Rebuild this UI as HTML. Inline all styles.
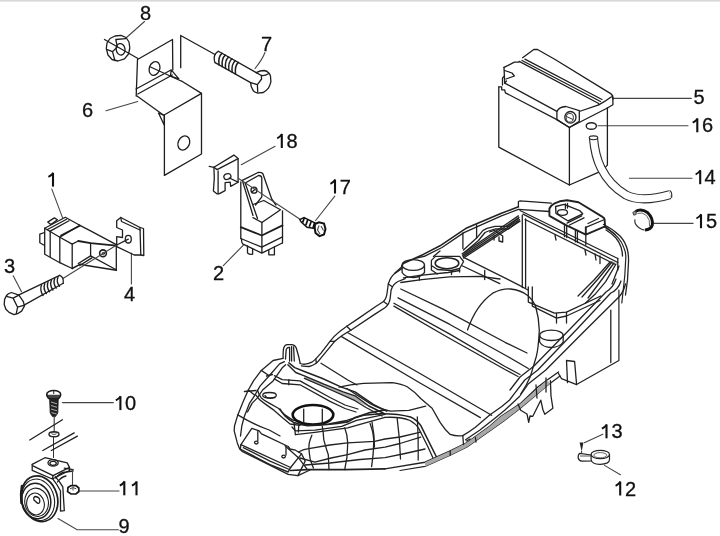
<!DOCTYPE html>
<html><head><meta charset="utf-8"><style>
html,body{margin:0;padding:0;background:#fff;width:720px;height:536px;overflow:hidden}
svg{display:block;filter:blur(0.4px)}
text{font-family:"Liberation Sans",sans-serif;font-size:20px;fill:#111;stroke:#111;stroke-width:0.3}
.l{fill:none;stroke:#1e1e1e;stroke-width:1.3;stroke-linecap:round;stroke-linejoin:round}
.f{fill:none;stroke:#222;stroke-width:1.3;stroke-linecap:round;stroke-linejoin:round}
.t{fill:none;stroke:#444;stroke-width:1.1;stroke-linecap:round}
.w{fill:#fff;stroke:#262626;stroke-width:1.15;stroke-linejoin:round}
.d{fill:#222;stroke:none}
</style></head><body>
<svg width="720" height="536" viewBox="0 0 720 536">
<rect x="0" y="0" width="720" height="1.6" fill="#d8d8d8"/>
<g id="labels"><text x="140.0" y="20.0">8</text><text x="261.0" y="51.3">7</text><text x="82.0" y="116.6">6</text><path d="M281.8,134.3 L281.8,148.0" fill="none" stroke="#111" stroke-width="2.1"/><path d="M282.1,134.1 Q280.3,136.9 277.2,138.3" fill="none" stroke="#111" stroke-width="1.9"/><text x="286.4" y="148.0">8</text><path d="M335.0,179.8 L335.0,193.5" fill="none" stroke="#111" stroke-width="2.1"/><path d="M335.3,179.6 Q333.5,182.4 330.4,183.8" fill="none" stroke="#111" stroke-width="1.9"/><text x="339.8" y="193.5">7</text><path d="M53.0,172.9 L53.0,186.6" fill="none" stroke="#111" stroke-width="2.1"/><path d="M53.3,172.7 Q51.5,175.5 48.4,176.9" fill="none" stroke="#111" stroke-width="1.9"/><text x="213.0" y="280.4">2</text><text x="3.9" y="273.3">3</text><text x="123.9" y="301.4">4</text><text x="693.5" y="104.3">5</text><path d="M697.3,118.6 L697.3,132.3" fill="none" stroke="#111" stroke-width="2.1"/><path d="M697.6,118.4 Q695.8,121.2 692.7,122.6" fill="none" stroke="#111" stroke-width="1.9"/><text x="702.0" y="132.3">6</text><path d="M700.2,170.5 L700.2,184.2" fill="none" stroke="#111" stroke-width="2.1"/><path d="M700.5,170.3 Q698.7,173.1 695.6,174.5" fill="none" stroke="#111" stroke-width="1.9"/><text x="704.6" y="184.2">4</text><path d="M701.0,214.5 L701.0,228.2" fill="none" stroke="#111" stroke-width="2.1"/><path d="M701.3,214.3 Q699.5,217.1 696.4,218.5" fill="none" stroke="#111" stroke-width="1.9"/><text x="705.9" y="228.2">5</text><path d="M120.4,396.4 L120.4,410.1" fill="none" stroke="#111" stroke-width="2.1"/><path d="M120.7,396.2 Q118.9,399.0 115.8,400.4" fill="none" stroke="#111" stroke-width="1.9"/><text x="125.0" y="410.1">0</text><path d="M124.3,481.6 L124.3,495.3" fill="none" stroke="#111" stroke-width="2.1"/><path d="M124.7,481.4 Q122.8,484.2 119.8,485.6" fill="none" stroke="#111" stroke-width="1.9"/><path d="M136.5,481.6 L136.5,495.3" fill="none" stroke="#111" stroke-width="2.1"/><path d="M136.8,481.4 Q135.0,484.2 131.9,485.6" fill="none" stroke="#111" stroke-width="1.9"/><text x="118.6" y="532.8">9</text><path d="M606.5,424.6 L606.5,438.3" fill="none" stroke="#111" stroke-width="2.1"/><path d="M606.8,424.4 Q605.0,427.2 601.9,428.6" fill="none" stroke="#111" stroke-width="1.9"/><text x="611.5" y="438.3">3</text><path d="M620.2,481.8 L620.2,495.5" fill="none" stroke="#111" stroke-width="2.1"/><path d="M620.5,481.6 Q618.7,484.4 615.6,485.8" fill="none" stroke="#111" stroke-width="1.9"/><text x="625.0" y="495.5">2</text></g>
<!-- 00_leaders.svg -->
<g class="t">
<path d="M144.5,21.5 L126.5,37.5"/>
<path d="M265,52.5 Q262,60 255,68.5"/>
<path d="M106,110.8 L137.7,101.5"/>
<path d="M275.1,146.3 L241.3,164.7"/>
<path d="M334.8,196.1 L315.6,220.5"/>
<path d="M51.8,189.1 L62.5,217.6"/>
<path d="M223.3,265.7 L243.4,245.1"/>
<path d="M13.2,275.7 L21.5,291.7"/>
<path d="M131.4,284 L131.4,253"/>
<path d="M613.3,98.4 L691.3,98.4"/>
<path d="M598,125.8 L688,125.8"/>
<path d="M629.4,178.2 L692,178.2"/>
<path d="M651.7,223.4 L693,223.4"/>
<path d="M62.4,402.6 L113.4,402.6"/>
<path d="M78.5,491 L119,491"/>
<path d="M58,518.6 L77.1,529.7 L118.5,529.7"/>
<path d="M602.8,434.3 L584.3,442.7"/>
<path d="M604.5,465.4 L620.4,474.7"/>
</g>

<!-- 01_top.svg -->
<!-- nut 8 -->
<g class="l">
<path d="M110,38.5 L115,36 L121,35.3 L126,37.5 L129,42 L129.8,48 L128.5,54 L124.5,58.8 L118,61 L112,59.5 L108,55 L106.3,48.5 L107,43 Z"/>
<ellipse cx="120.6" cy="49.3" rx="4.4" ry="5.8" transform="rotate(-10 120.6 49.3)"/>
<path d="M115.8,39.5 L125.7,38.6 M115.8,39.5 L117.3,46.9 L112.5,51.7 L107.2,49.6 M112.5,51.7 L114.9,60.7"/>
</g>
<!-- axis line nut->bracket -->
<path class="l" d="M104.5,39.5 L138,58.5"/>
<path class="l" d="M150.5,67 L181,81"/>
<!-- bracket 6 -->
<g class="l">
<path d="M137.5,59.5 L172.5,39.5 L172.8,70 M137.5,59.5 L136.2,96"/>
<path d="M136,89 L170.5,70.3 M137.8,94 L172.3,75"/>
<path d="M171.2,69.8 L178.9,78.9 L170.5,76.1 Z"/>
<ellipse cx="154.5" cy="68.5" rx="5.2" ry="7" transform="rotate(20 154.5 68.5)"/>
<path d="M180.7,35.5 L180.7,67.7 M180.7,35.5 L215,54.5"/>
<path d="M137,96 L163.7,115.2 L201.5,93.4 L181.5,81"/>
<path d="M201.5,93.4 L201.5,154 L164.4,175.4 L164.4,115.5"/>
<path d="M158.5,113 L164.3,115.5 L164.2,125 Z"/>
<ellipse cx="183.8" cy="143" rx="5.6" ry="7.3" transform="rotate(25 183.8 143)"/>
</g>
<!-- bolt 7 -->
<g class="l">
<path d="M218.4,51.3 L256.3,72.6 M215.1,62.6 L250.6,82.6"/>
<path d="M218.4,51.3 Q214.5,53 214.2,58 Q214.3,61.5 215.1,62.6"/>
<path d="M222,53.3 Q218,56.5 219,64.8 M225.3,55.1 Q221.3,58.5 222.3,66.6 M228.6,57 Q224.6,60.5 225.6,68.5 M231.9,58.8 Q227.9,62.3 228.9,70.3 M235.2,60.7 Q231.2,64.2 232.2,72.2 M238.3,62.4 Q234.5,66 235.5,74" stroke-width="1.5"/>
<path d="M256.3,72.6 Q260,70.5 264.1,70.5 Q267,71 268.4,72.6 Q270,74 270.5,76.2 L270.9,81.9 Q270,85.5 268.4,88.2 Q266,91 263.4,92.5 L257.7,93.2 Q255,92.5 253.5,91.1 L251.3,86.8 L250.6,82.6"/>
<path d="M256.3,72.6 L261.3,75.5 L261.6,79 L257.4,84.7 L250.6,82.6 M257.4,84.7 L257.7,92 M261.3,75.5 Q265,76 268.4,73.8"/>
</g>

<!-- 02_mid.svg -->
<!-- clip 18 -->
<g class="l">
<path d="M209.2,166.3 L213.9,167.3 L233.9,155.1 L238.1,158.4"/>
<path d="M213.9,167.3 L217.1,169.6 L237.7,158.9"/>

<path d="M238.1,158.6 L238.1,182.2 L230.7,186.4 L230.2,182.2 L225.1,182.7 L225.1,190.6 L219,193.9 L217.1,193.9 L213.4,191.1 L214.3,178 L213.9,167.3"/>
<path d="M218.1,171 L218.1,193.5"/>
<ellipse cx="227.4" cy="176.6" rx="3.6" ry="2.8" transform="rotate(-20 227.4 176.6)"/>
<path d="M229.3,178 L238.1,182.2"/>
</g>
<!-- relay 2 -->
<g class="l">
<path d="M242.3,180.4 L258,172.5 Q261,172 262.8,173.5 L271.7,199 L276,205"/>
<path d="M245.2,183 L258.5,175.5 Q261.5,175.5 261.8,178 L261.8,196.9 L255.5,205"/>
<path d="M242.3,180.4 L253,215.5 M245.2,183.3 L257.5,218.5"/>

<path d="M240.8,182 L240.8,238.5"/>
<circle cx="254" cy="190.2" r="3"/>
<path d="M252.5,191.5 L255.5,189"/>
<path d="M253,204.5 L263.8,200.5 L280.5,209.8 L261.9,222.5 L253,217.6"/>
<path d="M261.9,222.5 L261.9,252.5 M282.5,210.8 L282.5,243"/>
<path d="M240.8,227.1 L261.8,235.5 L282.5,225.4" stroke-width="1.8"/>
<path d="M240.8,238.5 L261.8,247.2 L282.5,236.8"/>
<path d="M241.5,239 Q241.5,242.5 242.6,243.9 L261.8,253.1 L282.3,243"/>
<path d="M247.5,246 L247.5,253 Q250,255 252.6,254.2 L252.6,249 M268.8,250.5 L268.8,254.8 L274.4,254.8 L274.4,247"/>
</g>
<!-- screw 17 -->
<path class="t" d="M238.6,178.5 L300,219.3"/>
<g fill="none" stroke="#111">
<path d="M299.8,219.6 L304,217.6 L316.5,223.6 L316,228.6 L307,227.3 L301,221.8 Z" fill="#fff" stroke-width="1.4"/>
<path d="M304.3,218 L302.6,222.6 M307.8,219.6 L305.8,225.2 M311.3,221.3 L309.3,226.8 M314.6,222.8 L313,228" stroke-width="1.7"/>
<path d="M315,224 L319,222.3 L324,223.5 L325.5,229 L324,234.5 L319.5,236.1 L315.5,233 L314.7,228 Z" fill="#fff" stroke-width="2"/>
<path d="M319,225.5 L317.5,230 L320,234 M321,226 L323.5,230.5" stroke-width="1.1" stroke="#444"/>
</g>
<!-- relay 1 -->
<g class="l">
<path d="M44.7,228.2 L65.3,217.3 L79.8,225.2 L59.8,237.3 Z"/>
<path d="M47.1,229.8 L66.5,219.3 M49.8,231.4 L69,220.7"/>
<path d="M61,235.5 L79.8,225.8" stroke-width="1.7"/>
<path d="M47.7,222.1 L54.4,217.9 L57.4,219.7 L50.8,224.5 Z"/>
<path d="M44.5,232.5 L39.8,234.2 L39.8,242.7 L44.1,245.2"/>
<path d="M44.7,228.2 L44.7,254.2 L59.8,262.7 L72.2,268.5"/>
<path d="M50.2,231.2 L50.2,256.7 M59.8,237.3 L59.8,262.7 M72.2,244.1 L72.2,268.5"/>
<path d="M59.8,237.3 L72.2,244.1 L78.3,241"/>
<path d="M79.4,225.1 L89.6,230.3 L116.3,244.6"/>
<path d="M78.3,241 L90.6,243.1 L116.3,245.6" stroke-width="1.8"/>
<path d="M90.6,243.1 L90.6,255.9 L115.3,269.2 M116.3,244.6 L116.3,270.3"/>
<path d="M78.3,263.5 L90.6,255.9 M79.8,265.5 L91.8,257.8" stroke-width="1.4"/>
<path d="M72.2,268.5 L80.4,264.1 L83.5,265.1 L116.3,270.3" stroke-width="1.5"/>
<circle cx="103" cy="253.3" r="3.4" stroke-width="1.6"/>
<circle cx="103.3" cy="253.6" r="1.2" stroke-width="0.9"/>
</g>
<!-- bracket 4 -->
<g class="l">
<path d="M116.7,220.8 L120.8,217.5 L140,227.5 L140.8,255 L134.2,255 L116.7,246.7 L116.7,236.7 L122.5,237.5 L122.5,230 L116.7,227.5 Z"/>
<path d="M120.8,217.5 L121.5,221.5 L140,230"/>
<path d="M140,227.5 L143.5,228.5 L143.8,255.5 L140.8,255"/>
<ellipse cx="128.3" cy="239.2" rx="3" ry="3.8"/>
</g>
<!-- bolt 3 -->
<g class="l">
<path d="M63.3,278.3 L116.7,245" class="t"/>
<path d="M116.7,245 L128.3,239.2"/>
<path d="M18.9,294.8 L59.7,275.3 M24.5,304.9 L63.2,283.3"/>
<path d="M59.7,275.3 Q64,277 63.2,283.3"/>
<path d="M41.5,285 Q39.5,290 43,295.5 M44.8,283.4 Q42.8,288.4 46.3,293.6 M48.1,281.8 Q46.1,286.8 49.6,291.8 M51.4,280.2 Q49.4,285.2 52.9,290 M54.7,278.6 Q52.7,283.6 56.2,288.1 M58,277 Q56,282 59.5,286.2" stroke-width="1.4"/>
<path d="M11.4,292.5 Q8,293.5 6.5,295.5 L4.6,299.4 L4.2,304.6 L5.9,309.2 L9.1,312.4 L14,314.7 L17.6,313.7 L21.6,311.1 L24.5,305.9 L23.2,301.3 L18.9,295.1 Z"/>
<path d="M6.5,296.4 L13.1,298.1 L18.9,295.1 M13.1,298.1 L17.6,307.2 L24.5,305.2 M17.6,307.2 L16.3,313.7"/>
</g>

<!-- 03_horn.svg -->
<!-- screw 10 -->
<g>
<ellipse cx="53.7" cy="394.4" rx="7" ry="3.9" fill="#fff" stroke="#1a1a1a" stroke-width="1.6"/>
<path d="M46.8,394.8 Q47.5,398.5 50,399 L57.5,399 Q60,398.5 60.6,394.8" fill="#444" stroke="#1a1a1a" stroke-width="1.2"/>
<path d="M53.7,391 L53.7,394" stroke="#222" stroke-width="1"/>
<path d="M49.6,398.5 L58.3,398.5 L57.8,413 L55.5,416.6 L52.5,416.6 L50.2,413 Z" fill="#222" stroke="#1c1c1c" stroke-width="0.8"/>
<path d="M51,402 L57,403.8 M51,405.5 L57,407.3 M51,409 L57,410.8 M51.5,412.5 L56.5,414" stroke="#bbb" stroke-width="0.9"/>
<path d="M54.2,416.6 L54.2,432" stroke="#333" stroke-width="1.1"/>
<ellipse cx="54" cy="434.2" rx="5" ry="2.5" fill="#fff" stroke="#222" stroke-width="1.4"/>
<ellipse cx="54" cy="433.6" rx="2.2" ry="1" fill="none" stroke="#444" stroke-width="0.8"/>
<path d="M53.5,436.8 L53.5,458" stroke="#333" stroke-width="1"/>
</g>
<g class="l">
<path d="M29.8,440 L62.4,419.8"/>
<path d="M42.8,450.5 L74.2,432.9 M51.3,450.5 L77.4,436.1"/>
</g>
<!-- horn 9 -->
<g class="l" stroke-width="1.25">
<path d="M32.2,464.4 L44.9,457.7 L67.2,462.9 L69.5,467.4 L53.1,475.6 L32.9,465.9"/>
<path d="M32.2,464.4 L32.2,470.4 L52.3,479 L53.1,475.6 M52.3,479 L69.5,470.5 L69.5,467.4"/>
<ellipse cx="53.1" cy="462.9" rx="5.1" ry="3.2"/>
<ellipse cx="53.1" cy="463.3" rx="3.2" ry="2"/>
<path d="M64.3,468.1 L73.2,469.6"/>
<path d="M55.3,476.6 Q60,482 62.8,486.8 L64.3,510.7 L60.5,511 L60.5,491 Q57,484 53.1,479.3"/>
<path d="M55.8,478 Q60,472.5 66,472 L73,471"/>
<path d="M57.5,482 Q61,477 66,476"/>
<path d="M72.5,469.6 L72.5,485.3" class="t"/>
<ellipse cx="39.5" cy="498.7" rx="17.9" ry="23.2" transform="rotate(-16 39.5 498.7)" stroke-width="1.7"/>
<ellipse cx="38" cy="499.8" rx="16.3" ry="21" transform="rotate(-14 38 499.8)" stroke-width="1.1"/>
<ellipse cx="36.2" cy="501" rx="14.5" ry="17.8" transform="rotate(-10 36.2 501)" stroke-width="1.5"/>
<ellipse cx="36.6" cy="502.3" rx="11.8" ry="14.2" transform="rotate(-10 36.6 502.3)" stroke-width="1.1"/>
<ellipse cx="35.5" cy="504" rx="8.8" ry="11" transform="rotate(-10 35.5 504)" stroke-width="1.1"/>
<path d="M35.5,496.5 Q33,497 34,500 L37.5,503.2 Q40,504 39.8,500.5 Q39.5,497 35.5,496.5 Z"/>
<path d="M22,486 Q20.5,494 21.5,503" stroke-width="2.6"/>
</g>
<!-- nut 11 -->
<g>
<path d="M68,487.5 L71,485.6 L76,485.6 L78.8,488 L78.8,491.5 L76,494 L71,494 L67.6,491.6 Z" fill="#fff" stroke="#151515" stroke-width="1.7"/>
<path d="M70,488.8 L73,487.6 L76.3,488.8 M73,487.6 L73,490.5" fill="none" stroke="#444" stroke-width="1"/>
</g>

<!-- 04_battery.svg -->
<!-- battery 5 -->
<g class="l">
<!-- body -->
<path d="M498.8,86.8 L498.8,147.1 L569.4,185 L598.3,172.3 M604,168.5 L607.4,165.1 L607.4,108"/>
<path d="M569.4,127.5 L569.4,185"/>
<!-- lid left block -->
<path d="M498.8,86.8 L501.7,86.8 L501.7,89.8 L504.7,89.8 L505.4,92.8 L556.9,119.6 L569.4,127.5 L607.4,108"/>
<path d="M504,67.4 L514.4,62.2 L518.9,62.2"/>
<path d="M504,67.4 L504.7,83.1 L556.9,111.4 L556.9,119.6"/>
<path d="M504.5,70.5 L512,73 L514.4,76 L506,79 M504.5,76 L502.5,78 L502.5,85"/>
<path d="M504.7,83.1 L506.5,81"/>
<!-- groove & right block -->
<path d="M519.2,61.4 L598.7,103.5 M522,60.5 L600.5,101.5 M524.9,59.2 L602,99.5"/>
<path d="M522.6,57.7 L533.8,49.5 L537.5,49.5 L554.7,59.2 L610.7,93.6 Q613.5,95.5 612.9,99 L612.9,104.8 L607.4,108"/>
<path d="M598.7,104.8 Q606,101 610.7,97.3 Q612.5,96 612.9,99"/>
<path d="M598.7,104.8 L579.3,111.5 L579.3,121.2 L569.4,127.5"/>
<path d="M556.9,111.4 Q559,107 566,106.5 L579.3,110.7"/>
<path d="M556.9,119.6 L569.4,127.5"/>
</g>
<g>
<ellipse cx="570.4" cy="117.3" rx="5.6" ry="5.8" fill="#fff" stroke="#222" stroke-width="1.3"/>
<ellipse cx="569.8" cy="117.8" rx="3.6" ry="4.3" fill="none" stroke="#333" stroke-width="1"/>
<path d="M566.5,116.5 L573,119.5" stroke="#333" stroke-width="1"/>
</g>
<!-- washer 16 -->
<ellipse cx="591.3" cy="126" rx="5.1" ry="3.3" fill="#fff" stroke="#222" stroke-width="1.4"/>
<!-- hose 14 -->
<path d="M593.5,138.3 C594.5,150 597,160 601,168 C606,178 614,188 626,195 C636,200 650,200.5 670,194.6" fill="none" stroke="#2a2a2a" stroke-width="9.2" stroke-linecap="butt"/>
<path d="M593.5,138.3 C594.5,150 597,160 601,168 C606,178 614,188 626,195 C636,200 650,200.5 670,194.6" fill="none" stroke="#fff" stroke-width="7" stroke-linecap="butt"/>
<ellipse cx="593.5" cy="137.8" rx="4.3" ry="1.9" fill="#fff" stroke="#222" stroke-width="1.1"/>
<path d="M669.5,190.4 Q672.5,191.5 671.6,197.9" fill="none" stroke="#222" stroke-width="1.1"/>
<!-- clamp 15 -->
<g fill="none">
<path d="M635.5,211.5 Q641,208 647.5,212.5 Q653.2,218 652.3,225 Q651,229.5 645,230" stroke="#151515" stroke-width="3"/>
<path d="M637.5,213.5 Q642,211.5 646.5,215.5 Q650.5,220 649.5,226" stroke="#555" stroke-width="0.9"/>
<path d="M635,219.4 Q634,224 638.7,227.6 Q641.5,229.8 644.5,230.2" stroke="#333" stroke-width="1.2"/>
<path d="M632.8,212.3 L635.5,210.8 L636.3,214.3 L633.8,215.2 Z" fill="#999" stroke="#444" stroke-width="1"/>
</g>
<!-- part 12 / screw 13 -->
<g>
<path d="M579.6,442.5 L583.4,442.5 L581.7,451.5 Z" fill="#222"/>
<path d="M581.6,451 L581.6,453" stroke="#333" stroke-width="1"/>
<path d="M591,455 L580,453.3 Q577.8,454.5 578.2,458 Q579,461 582,461.2 L594,461" fill="#fff" stroke="#222" stroke-width="1.2"/>
<path d="M591.1,454.5 L591.1,459.5 Q592,464.5 600.3,464.3 Q609.5,464 609.5,459.5 L609.5,454.5" fill="#fff" stroke="#222" stroke-width="1.2"/>
<ellipse cx="600.3" cy="454.5" rx="9.2" ry="4.2" fill="#fff" stroke="#222" stroke-width="1.3"/>
<ellipse cx="600.3" cy="455.2" rx="6.5" ry="2.6" fill="none" stroke="#555" stroke-width="0.9"/>
<path d="M580,456 L591,456" stroke="#444" stroke-width="0.9"/>
</g>

<!-- 05a_front.svg -->
<g class="f" id="front">
<!-- upright tab -->
<path d="M283.1,358.3 Q283,350 283.8,347.8 Q285,344.6 287,344.6 L292.2,344.6 Q295,345 296.2,347.8 L298.8,357 L300.1,363"/>
<path d="M285.5,359 L286.2,349.5 Q287.5,347 289.6,347.5 M289.6,347.5 L289.6,361 M291.6,346.5 L291.6,361 M293.6,347 L294.3,361"/>
<!-- rail outer edge from tab up -->
<path d="M300.1,363.5 Q302.5,364.5 305.3,364.2 Q309,363.6 311.8,362.2 Q314,360.8 315.8,358.9 L321,353.1 L330,341.3 L334,336.6 Q339,331.5 346.8,326.2 L358.9,318.1 L375,307 L383.5,301.5 Q386.6,298.5 387.2,292 L388.3,284 Q390.5,277 394.4,273.8 L402.1,268.5"/>
<path d="M301.4,365.8 Q305,366.5 309.2,366.5 Q313,365.6 315.8,363.5 Q318.5,361.5 320.6,358.4 L334.7,341.3 Q341,335.5 350.8,330.2 L375,314.1 L385.3,307.5 Q389.5,304 390.2,298 L391.1,290 Q393,284 398,281.5 L405.2,278.6"/>
<path d="M330,341.3 L334.7,341.3 M346.8,326.2 L350.8,330.2 M383.5,301.5 L387.6,304.5 M388.3,284 L392,286.5 M315.8,358.9 L316.3,362.8"/>
<!-- front-left outer edges -->
<path d="M283.1,358.3 L273.1,360.5 L261.3,370.4 L253.5,380.9 L248.3,390 L243.1,401.8 L237.8,414.9 L234.5,426 L234.2,430.8 L237.3,442.9 L239.7,449 L242.1,451.4 L288.2,474.4 L297.9,475.6 L310,470"/>
<path d="M284.4,361.6 L279.6,363.9 L269.2,375.7 L260,386.1 L254.8,395.3 L249.6,403.1 L244.4,416.2 L241.8,426 L240.5,436"/>
<path d="M285.7,364.8 L282.2,367.8 L273.1,380.9 L262.6,390 L257.4,397.9 L252.2,403.1 L247.5,412"/>
<path d="M244.4,391.5 L256,390.5 M248.3,390 L254.8,395.3 M266.5,376 L272.5,374.5 M261.3,370.4 L269.2,375.7"/>
<path d="M257.4,390 Q259,395 261.3,397.9 Q265,401 269.2,403.1 L278.3,408.3 L284.9,414.9 L292.7,420.1 L300,421.4"/>
<path d="M256.1,395.3 Q259,400 264,403.1 L273.1,409.6 L282.2,417.5 L290.1,424 L300,425.3"/>
<path d="M237.8,414.9 Q243,418 247,420.1 Q258,426 269.2,430 L280,436"/>
<!-- band going right from front-left -->
<path d="M274.4,375.7 L282.2,379.6 L300,380.9 L304,383.1 L330,397.5 L345,405 L358,409"/>
<path d="M274.4,378.9 L282.2,383.5 L300,384.8 L330,401.4 L345,408.5 L356,412"/>
<path d="M288.8,379.6 L288.8,384.8"/>
<!-- band from tab going down-right -->
<path d="M288.9,362.8 L294.7,367.6 L304.4,371.5 L321.9,378.3 L341.4,387.1 L355,391.9 L373.3,404.4 L386.7,411.1" stroke-width="1.5"/>
<path d="M304.4,375.9 L323.9,384.2 L343.3,391.9 L355,395.8 L368.9,406 L384,413.5 L304.4,378.3 Z" fill="#b0b0b0" stroke="none"/>
<path d="M287.9,364.7 L295.7,372.5 L304.4,375.9 L323.9,384.2 L343.3,391.9 L355,395.8 L368.9,406 L384,413.5" stroke-width="1.4"/>
<path d="M304.4,378.3 L330,389.5 L355,400.7 L366,407.5 L382,416"/>
<!-- small ring -->
<ellipse cx="269.5" cy="395.2" rx="6.8" ry="2.7"/>
<path d="M265,395.5 Q266,398 270,398.3 L275,397.5"/>
<!-- big oval -->
<ellipse cx="313" cy="414.8" rx="20.3" ry="9.8" stroke="#111" stroke-width="2.6"/>
<path d="M303.7,409.2 L303.7,422.6 M322.3,409.2 L322.3,423.5"/>
<!-- band below oval -->
<path d="M280,409 Q282,413 285,415.9 Q289,420 294,422.6 Q300,425 307.4,425.6 L322.3,424.9 L337.2,423.4 L347.7,421.9 Q352,420 355.1,417.4 L368.6,412.9 L385,409.9" stroke-width="1.6"/>
<path d="M292,427 L295.4,430.8 L314.9,430.1 L341.7,426.3 L356.6,420.4 L385,414.4"/>
<path d="M295.4,434.6 L314.9,432.3 L347.7,427.8 L368,422 L385,417.4"/>
<path d="M294,422.6 L295.4,434.6 M298.8,425.2 L298.3,432"/>
<!-- grid -->
<path d="M311.9,435.3 Q308.5,443 308.9,448 Q309.5,456 310.4,460 L313.4,468.1"/>
<path d="M322.3,426.3 Q323.5,433 323.8,439.8 Q326,448 328.3,454.7 L329,469.6"/>
<path d="M344.7,427.8 Q347.5,435 347.7,442.8 Q347.5,450 346.9,457.7 L344.7,469.6"/>
<path d="M370.1,423.4 Q373.5,432 373.8,439.8 Q373.5,448 373.1,454.7 L371.6,466.6"/>
<path d="M372,422 Q374.5,435 374.5,447.2 M397.2,418.7 Q400,440 400.5,459 M417.3,417 Q418.5,440 418.2,460"/>
<path d="M298.4,452 Q304,449 308.9,448.7 L329.8,445 L347.7,442.8 L374.6,441.3 L385,439 L400,437 L420.7,432.1"/>
<path d="M300,458 L314.9,462.2 L331,458 L347.7,454.7 L365,450 L385,447.2 L400,443.5 L420.7,437.2"/>
<path d="M305,465 L330,463 L360,459.5 L385,457.7 L405,453.5 L425,449"/>
<path d="M285,445.7 Q292,452 298.4,457.7 L307.4,469.6"/>
<path d="M290.4,470.5 L307.4,469.6 L344.7,469.6 L385,468.9" stroke-width="1.6"/>
<!-- front seat dome -->
<path d="M339,387.2 Q350,384.5 363.6,383.4 L392.1,382.6 Q402,384 407.2,386.8 Q415,392 420.7,398.5 L432.1,408.3 L440.1,422.4 Q445,430 450.2,434.4 Q456,436.5 462.8,435.6 Q469,432 475.4,427.2 L490,414.8"/>
<path d="M346.8,388.5 Q360,397 370.3,403.6 Q381,409.5 390.5,411.1 L408.9,410.3 L425.7,406.1"/>
<path d="M330,423.7 L346.8,420.4 L363.6,415.3 L380.4,413.7 Q398,413.5 410.6,417 Q417,420 420.7,425.4 L430.8,445.6 L437.5,459" stroke-width="1.5"/>
<path d="M385,417.4 Q400,416.5 410,420.5 Q416,424 418.5,428 L428,447 L433,458"/>
<!-- license panel -->
<path d="M251.8,428.3 L259.1,430.8 L261.5,433.8 L266.4,436.2 L288.2,446.5 L290,449 L295.5,450.2 L301.5,453.8 L290.6,467.5 L240.9,444.7 Z" stroke-width="1.3"/>
<path d="M240.9,444.7 L240.3,449 L270,464.7 L288.2,472 L290.6,467.5" stroke-width="1.4"/>
<path d="M243.3,447.7 L270,461.1 L289.4,469.5"/>
<path d="M257.8,431.5 L257.8,440.5 M286,447.5 L286,455"/>
<ellipse cx="256.3" cy="442.6" rx="1.8" ry="1.4"/>
<ellipse cx="283.6" cy="456.6" rx="1.8" ry="1.4"/>
<path d="M301.5,453.8 L305.2,461.1 L297.9,475.6"/>
</g>

<!-- 05b_rear.svg -->
<g class="f" id="rear">
<!-- inner band below rail near cylinders -->
<path d="M403.5,277.8 L420,275.3 L448,272.5 L459.6,270.5" stroke-width="1.3"/>
<path d="M400.8,282.5 L421.7,279.7 L449.4,276.9 L480,276.3 L500,279" stroke-width="1.3"/>
<path d="M419,275.5 L419.5,280"/>
<!-- cylinders -->
<ellipse cx="413.3" cy="265" rx="11.2" ry="5.4" stroke-width="1.3"/>
<path d="M402.1,265.5 L402.1,272.5 Q405,277.5 413.5,277.5 Q421,277 424.5,272.5 L424.5,265.5"/>
<ellipse cx="447" cy="263.2" rx="11.8" ry="5.5" stroke-width="1.6"/>
<path d="M431.4,260.4 L435.4,256.4 L459.6,256.4 L463.6,261.5 L459.6,268.5 L451.5,270.5 L437.4,269.5 L431.4,265.5 Z" stroke-width="1.3"/>
<path d="M431.4,265.5 L431.4,270 L437.4,274 M451.5,270.5 L451.5,274.5 M459.6,268.5 L459.6,272"/>
<!-- top rail -->
<path d="M395,273 L401.2,267.5 L403.2,263.5 L423.3,254.4 L440,245.8 L462.2,230.9 L466.1,228.3 L476.6,223.7 L501.4,213.3 L518.4,206.8" stroke-width="1.6"/>
<path d="M424.3,256.4 L442,247.5 L463.5,232.9 L477.9,226.3 L501.4,215.9 L518.4,209.4"/>
<path d="M416,258 L424.3,256.4 M433.4,256.4 L440,251"/>
<path d="M462.9,232.9 L462.9,248.6 M476.6,225 L476.6,238.1"/>
<!-- zigzag wire -->
<path d="M463.5,250 L476.6,238.1 L483.1,230.3 L487,228.3 L494.9,226.3 L507.9,226.3 L518.4,218.5" stroke-width="1.3"/>
<path d="M465,252 L478.5,240.5 L485,232.5 L488.5,231 L495,229 L508.5,229 L519,221"/>
<!-- wire bundle -->
<path d="M462.2,253.8 L518.4,215.9 M462.5,255.2 L519,217.5 M463,256.6 L519.5,219.5 M463.6,258 L520,221.1"/>
<path d="M489.6,232 L494,230.3 L502.7,236 L502.7,242 L499,241 L499,237 M494,236 L494,240"/>
<!-- box top & rim -->
<path d="M518.4,206.8 L518.4,201.5 L520.1,200.9 L551.3,203.1"/>
<path d="M518.4,209.4 L549.3,211.5"/>
<path d="M520,210.5 L617.8,258.5" stroke-width="1.2"/>
<path d="M523.1,214.1 L617.8,262.5"/>
<path d="M525.1,219.5 L615.5,264.5"/>
<path d="M522.3,215.1 L522.3,287.6 M525.6,219 L525.6,287.6"/>
<path d="M555,235 L556,240 M585,250 L586,255 M595,254 L596,260 M600,256 L600,263.5"/>
<!-- box bracket block -->
<path d="M549.4,215.8 L549.4,208.5 Q551,205 554.6,203.3 L559.8,201.3 L567.1,200.2 L578.5,202.3 L602.5,216.9 Q604.5,218 604.6,219.5 L605.1,226.3 L585.8,234.6 L585.8,227.3 M549.4,215.8 L566,225.2 L585.8,234.6" stroke-width="1.9"/>
<path d="M585.8,227.3 L604.6,219.5"/>
<path d="M555.6,206.5 L564,204.4 L579.6,210.6 L582.7,213.8 L568.1,221 L556,213.5 Z" stroke-width="1.4"/>
<ellipse cx="562.5" cy="212.5" rx="5" ry="2.8"/>
<path d="M567.1,223.1 L581.7,215.8 M569.5,225 L584,217.8 M588,223.5 L598.5,218.5" stroke-width="1.3"/>
<path d="M565.4,204 L565.4,208.5 M567.5,203.5 L567.5,208"/>
<path d="M564.5,224.2 L564.5,236.7 M566.7,225.3 L566.7,237.5 M575.4,229.6 L575.4,241.9 M577.4,230.5 L577.4,242.5 M585.8,234.6 L585.8,245"/>
<path d="M605.1,226.3 L615,234.6"/>
<!-- box right side curves -->
<path d="M604.7,227.2 Q613,232 617.8,237.3 Q622,242 623.8,247.4 Q626,252 625.8,257.4 L624.8,275.5 L621.8,303" stroke-width="1.2"/>
<path d="M603.5,224.5 Q613,229 620,236 Q625.5,242 627.5,250 Q628.8,256 628.5,262 L627.5,280 L625.5,295"/>
<path d="M606,230 Q612,233.5 616,238 Q619.5,242.5 621,247 Q622.5,252 622.5,256"/>
<path d="M617.8,258.5 L617.8,270"/>
</g>

<!-- 05c_right.svg -->
<g class="f" id="rightfloor">
<!-- box bottom -->
<path d="M528.3,287 L528.3,302.1 L533.3,304.1 L554.4,313.2 L566.5,312.2 L600.8,296"/>
<path d="M532.3,287 L532.3,306.1 L556.5,318.2 L566.5,316 L600,300.5"/>
<path d="M556.5,313.5 L556.5,323 M566.5,312.2 L566.5,323"/>
<path d="M618.9,290 L618.9,360.5 L576.6,384.6 L561.5,378.6 L558.5,373.6" stroke-width="1.2"/>
<path d="M610.8,310.1 L610.8,362.5"/>
<path d="M566.5,360.5 L567.5,382.6 M574.6,361.5 L576.6,384.6 M566.5,360.5 L574.6,361.5"/>
<!-- cylinder right -->
<ellipse cx="551.4" cy="335.3" rx="11.8" ry="5.2" stroke-width="1.3"/>
<path d="M539.6,335.3 L539.6,342 Q543,347.5 551.4,347.5 Q560,347 563.2,342 L563.2,335.3"/>
<!-- right rail -->
<path d="M625.5,284 Q623,293 618.9,297 L584.6,331 L545.8,370 L528.2,384 L519.5,396.5 L505,410 L494.6,418.5 L480,430 L465.6,439.8" stroke-width="1.3"/>
<path d="M621,281 Q618,290 610.8,293 L578,328 L537.8,370 L524.8,380 L513.6,394.6 L509.6,400 L501.8,406.5 L490,414.8"/>
<path d="M616,279 Q613,288 606,292 L572,327 L534,366 L520,377 L510,390"/>
<path d="M616,264 L605.7,281.6 L595.6,293.7 L585.5,303 M614,263 L600,282 L588,298 M612,262 L598,279 L582,297 M619,266 L612,284 M610,262 L594,280 L578,296"/>
<path d="M558.5,372 L547.2,380 L538.2,386.7 L520,403.9 L501.1,416.3 L490,426.1 L467,442.6 L450.2,451 L425,462.2 L385,468.9" stroke-width="1.4"/>
<path d="M560,376 L550,383.4 L520,408.5 L502.4,422 L490,430.7 L467,447 L450.2,455.2 L425,466.4 L400,470.5" stroke-width="1.2"/>
<path d="M550,383.4 L547.2,380 L520,403.9 L501.1,416.3 L490,426.1 L467,442.6 L450.2,451 L425,462.2 L425,466.4 L450.2,455.2 L467,447 L490,430.7 L502.4,422 L520,408.5 Z" fill="#a8a8a8" stroke="none"/>
<path d="M450.2,451 L450.2,455.2 M475.4,437.5 L476,442 M462.8,435.6 L463.5,444.5 M466.5,441 L470,439"/>
<!-- hanging tabs -->
<path d="M518,404 L520.7,410.3 L527,414 L528.7,422.4 L530,416 L532.8,416.3 L540.8,400.2 L543,410 L544.8,414.3 L552.9,408.3 L551,396 L550.4,380.6"/>
<path d="M536,385 L537,398 M546,378 L546,392"/>
<!-- floor lines: rear cross member -->
<path d="M400.8,289 L442.5,308.9 L505,342.3 L527,353"/>
<path d="M398,297.8 L449.4,324.2 L505,355 L528.3,368.5"/>
<path d="M393.9,303.3 L449.4,333.9 L505,366.5 L520,374.5"/>
<path d="M393.9,306.1 L446.7,336.7 L505,369.5 L518,376.5"/>
<!-- floor lines: front cross member -->
<path d="M347.9,332.7 L420,373.5 L491.6,415.3"/>
<path d="M341.2,336.4 L420,383 L480.4,417.6"/>
<path d="M321,363.3 L348.2,380.3 L357,385"/>
<!-- back edge of floor (behind cylinders) -->
<path d="M463.6,257.4 L520,285.6 L528,290"/>
<path d="M461.6,265.5 L499.8,283.6"/>
<path d="M484.7,270.5 L484.7,279.6"/>
<!-- rear dome -->
<path d="M467.5,330 Q476,305 492.7,293.2 Q502,288.5 510.4,289 Q521,290 528,295.7 Q533,300 535.5,305.8 Q539,318 539.3,330.3 Q538.5,348 536.3,356.5 L530.3,376.6 Q527,385 520.7,394"/>
</g>

</svg>
</body></html>
